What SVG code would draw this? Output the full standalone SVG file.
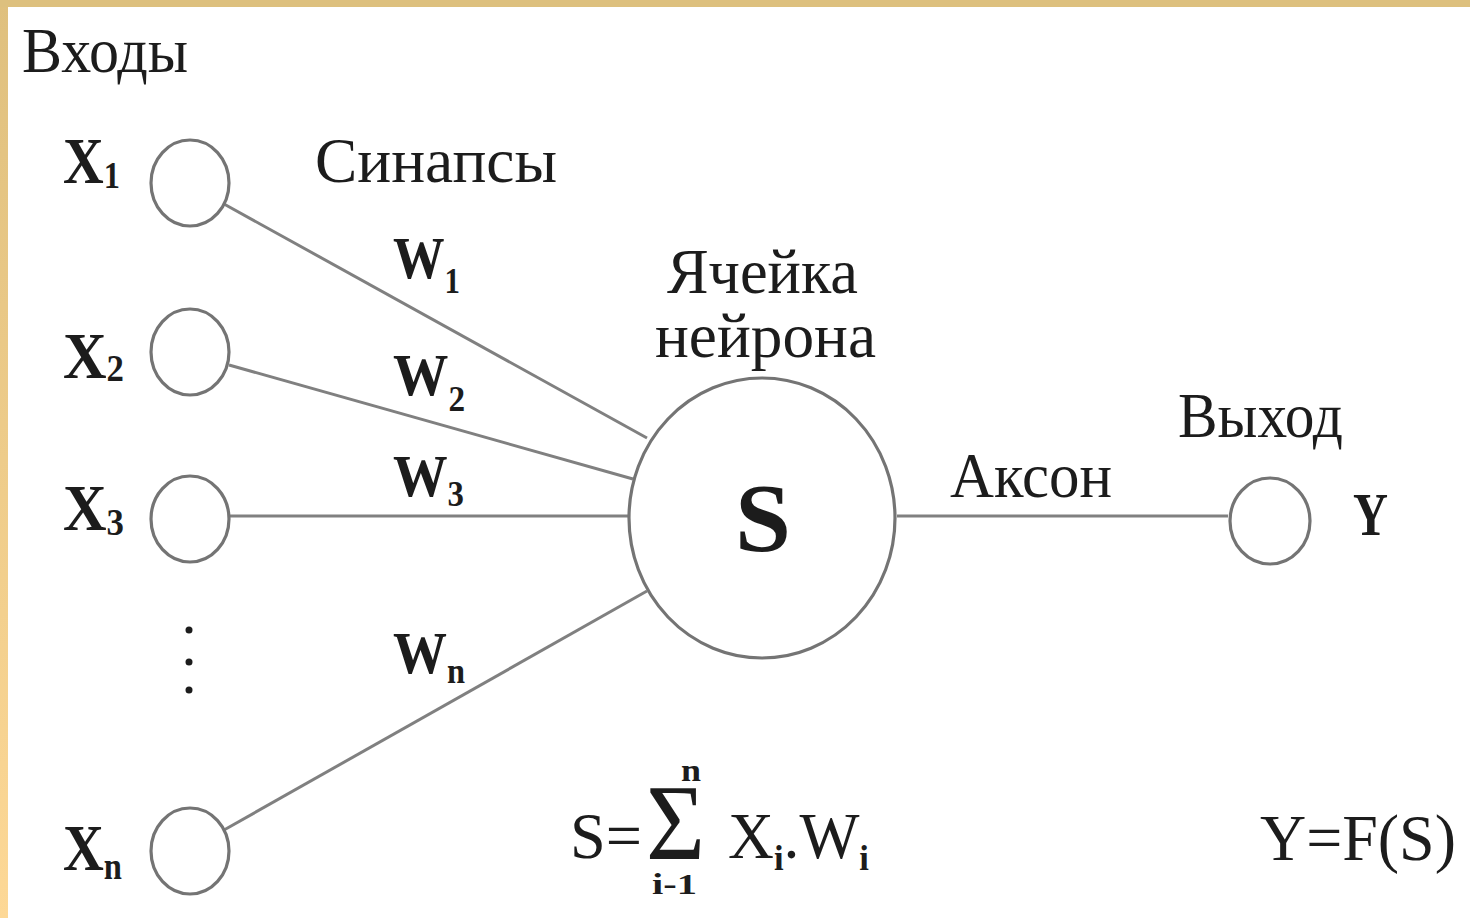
<svg xmlns="http://www.w3.org/2000/svg" width="1470" height="918" viewBox="0 0 1470 918">
<defs>
<linearGradient id="lb" x1="0" y1="0" x2="0" y2="1">
<stop offset="0" stop-color="#dfc07e"/>
<stop offset="1" stop-color="#fdd896"/>
</linearGradient>
<style>
.t{font-family:"Liberation Serif","Times New Roman",serif;fill:#1c1c1c;}
.b{font-weight:bold;}
.c{fill:none;stroke:#747474;stroke-width:3.2;}
.l{stroke:#808080;stroke-width:3;fill:none;}
.sub{font-size:38px;font-weight:bold;}
.wsub{font-size:36px;font-weight:bold;}
</style>
</defs>
<rect x="0" y="0" width="1470" height="918" fill="#ffffff"/>
<rect x="0" y="0" width="8" height="918" fill="url(#lb)"/>
<rect x="0" y="0" width="1470" height="7" fill="#ddc07e"/>

<g id="connectors">
<line class="l" x1="224" y1="204" x2="647" y2="438"/>
<line class="l" x1="229" y1="365" x2="633" y2="479"/>
<line class="l" x1="230" y1="516" x2="628" y2="516"/>
<line class="l" x1="224" y1="830" x2="647" y2="591"/>
<line class="l" x1="897" y1="516" x2="1228" y2="516"/>
</g>

<g id="title-inputs"><text class="t" x="22" y="72" font-size="64" textLength="166" lengthAdjust="spacingAndGlyphs">Входы</text></g>
<g id="title-synapses"><text class="t" x="315" y="182" font-size="64" textLength="242" lengthAdjust="spacingAndGlyphs">Синапсы</text></g>

<g id="x1">
<ellipse class="c" cx="190" cy="183" rx="39" ry="43"/>
<text class="t b" x="63" y="183" font-size="66" textLength="57" lengthAdjust="spacingAndGlyphs">X<tspan class="sub" dy="5">1</tspan></text>
</g>
<g id="x2">
<ellipse class="c" cx="190" cy="352" rx="39" ry="43"/>
<text class="t b" x="63" y="378" font-size="66" textLength="61" lengthAdjust="spacingAndGlyphs">X<tspan class="sub" dy="3">2</tspan></text>
</g>
<g id="x3">
<ellipse class="c" cx="190" cy="519" rx="39" ry="43"/>
<text class="t b" x="63" y="530" font-size="66" textLength="61" lengthAdjust="spacingAndGlyphs">X<tspan class="sub" dy="5">3</tspan></text>
</g>
<g id="dots">
<circle cx="189" cy="630" r="3.5" fill="#1c1c1c"/>
<circle cx="189" cy="662" r="3.5" fill="#1c1c1c"/>
<circle cx="189" cy="690" r="3.5" fill="#1c1c1c"/>
</g>
<g id="xn">
<ellipse class="c" cx="190" cy="851" rx="39" ry="43"/>
<text class="t b" x="63" y="870" font-size="66" textLength="59" lengthAdjust="spacingAndGlyphs">X<tspan class="sub" dy="9">n</tspan></text>
</g>

<g id="w-labels">
<text class="t b" x="393" y="278" font-size="60" textLength="67" lengthAdjust="spacingAndGlyphs">W<tspan class="wsub" dy="15">1</tspan></text>
<text class="t b" x="393" y="395" font-size="60" textLength="72" lengthAdjust="spacingAndGlyphs">W<tspan class="wsub" dy="16">2</tspan></text>
<text class="t b" x="393" y="496" font-size="60" textLength="71" lengthAdjust="spacingAndGlyphs">W<tspan class="wsub" dy="10">3</tspan></text>
<text class="t b" x="393" y="673" font-size="60" textLength="72" lengthAdjust="spacingAndGlyphs">W<tspan class="wsub" dy="10">n</tspan></text>
</g>

<g id="neuron">
<text class="t" x="667" y="293" font-size="64" textLength="191" lengthAdjust="spacingAndGlyphs">Ячейка</text>
<text class="t" x="655" y="357" font-size="64" textLength="221" lengthAdjust="spacingAndGlyphs">нейрона</text>
<ellipse class="c" cx="762" cy="518" rx="133" ry="140"/>
<text class="t b" x="735" y="551" font-size="98" textLength="56" lengthAdjust="spacingAndGlyphs">S</text>
</g>

<g id="axon-label"><text class="t" x="950" y="497" font-size="64" textLength="162" lengthAdjust="spacingAndGlyphs">Аксон</text></g>

<g id="output">
<text class="t" x="1178" y="437" font-size="64" textLength="165" lengthAdjust="spacingAndGlyphs">Выход</text>
<ellipse class="c" cx="1270" cy="521" rx="40" ry="43"/>
<text class="t b" x="1353" y="535" font-size="62" textLength="35" lengthAdjust="spacingAndGlyphs">Y</text>
</g>

<g id="formula-s">
<text class="t" x="570" y="858" font-size="66" textLength="72" lengthAdjust="spacingAndGlyphs">S=</text>
<text class="t" x="646" y="859" font-size="108" textLength="59" lengthAdjust="spacingAndGlyphs">Σ</text>
<text class="t b" x="681" y="781" font-size="32" textLength="20" lengthAdjust="spacingAndGlyphs">n</text>
<text class="t b" x="652" y="894" font-size="30" textLength="45" lengthAdjust="spacingAndGlyphs">i-1</text>
<text class="t" x="728" y="858" font-size="66" textLength="141" lengthAdjust="spacingAndGlyphs">X<tspan class="wsub" dy="12">i</tspan><tspan dy="-12">.W</tspan><tspan class="wsub" dy="12">i</tspan></text>
</g>

<g id="formula-y"><text class="t" x="1260" y="860" font-size="66" textLength="196" lengthAdjust="spacingAndGlyphs">Y=F(S)</text></g>
</svg>
